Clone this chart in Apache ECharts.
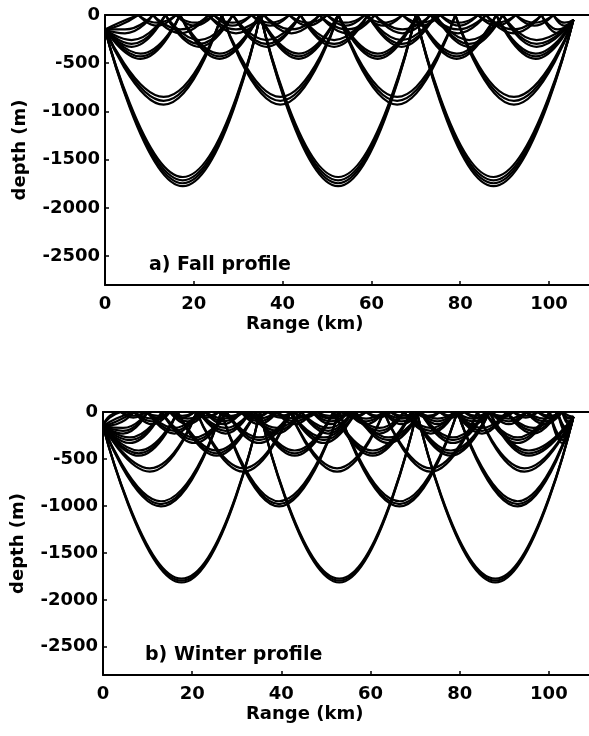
<!DOCTYPE html>
<html>
<head>
<meta charset="utf-8">
<script src="https://cdn.jsdelivr.net/npm/echarts@6/dist/echarts.min.js"></script>
<style>
  html, body { margin: 0; padding: 0; background: #fff; }
  #chart { width: 589px; height: 736px; }
</style>
</head>
<body>
<div id="chart"></div>
<script>
// axis ticks
const rangeTicks = [0, 20, 40, 60, 80, 100]
const depthTicks = [0, -500, -1000, -1500, -2000, -2500]

// source / receiver positions [range km, depth m]
const fallSource = [0, -150]
const fallReceiver = [105.5, -50]
const winterSource = [0, -150]
const winterReceiver = [105.5, -50]

// ray families:
// surface hits (km), lower turning ranges (km), turning depth of each ray (m)
const fallDeepTops = [35, 70]
const fallDeepBottoms = [17.5, 52.5, 87.5]
const fallDeepDepths = [-1680, -1715, -1745, -1775]

const fallMidTops = [26.3, 52.6, 78.9]
const fallMidBottoms = [13.2, 39.5, 65.8, 92.1]
const fallMidDepths = [-850, -890, -930]

const fall450Tops = [16.9, 34.7, 52.5, 70.3, 88.1]
const fall450Bottoms = [8, 25.8, 43.6, 61.4, 79.2, 97]
const fall450Depths = [-400, -430, -455]

const fall300Tops = [13.6, 28.8, 44, 59.2, 74.4, 89.6]
const fall300Bottoms = [6, 21.2, 36.4, 51.6, 66.8, 82, 97.2]
const fall300Depths = [-260, -300, -330]

const fall180Tops = [10.8, 23.3, 35.8, 48.3, 60.8, 73.3, 85.8, 98.3]
const fall180Bottoms = [4.5, 17, 29.5, 42, 54.5, 67, 79.5, 92, 102]
const fall180Depths = [-150, -190]

const fall90Tops = [7.5, 16, 24.5, 33, 41.5, 50, 58.5, 67, 75.5, 84, 92.5, 101]
const fall90Bottoms = [3.2, 11.7, 20.2, 28.7, 37.2, 45.7, 54.2, 62.7, 71.2, 79.7, 88.2, 96.7, 103.5]
const fall90Depths = [-80, -110]

const winterDeepTops = [35.2, 70.4]
const winterDeepBottoms = [17.6, 53, 88]
const winterDeepDepths = [-1775, -1795, -1815]

const winter1000Tops = [26.5, 53, 79.5]
const winter1000Bottoms = [13, 39.5, 66.5, 93]
const winter1000Depths = [-950, -980, -1005]

const winter650Tops = [21, 42, 63, 84]
const winter650Bottoms = [10.5, 31.5, 52.5, 73.5, 94.5]
const winter650Depths = [-600, -635]

const winter450Tops = [16.7, 34.2, 51.7, 69.2, 86.7]
const winter450Bottoms = [8, 25.5, 43, 60.5, 78, 95.5]
const winter450Depths = [-410, -440, -465]

const winter300Tops = [13.2, 27.7, 42.2, 56.7, 71.2, 85.7, 100.2]
const winter300Bottoms = [6, 20.5, 35, 49.5, 64, 78.5, 93, 103]
const winter300Depths = [-270, -300, -330]

const winter200Tops = [10, 21.5, 33, 44.5, 56, 67.5, 79, 90.5, 102]
const winter200Bottoms = [4.5, 16, 27.5, 39, 50.5, 62, 73.5, 85, 96.5, 104]
const winter200Depths = [-170, -200, -230]

const winter100Tops = [7, 15, 23, 31, 39, 47, 55, 63, 71, 79, 87, 95, 103]
const winter100Bottoms = [3, 11, 19, 27, 35, 43, 51, 59, 67, 75, 83, 91, 99, 104.5]
const winter100Depths = [-70, -100, -130]

const winter50Tops = [4, 9.5, 15, 20.5, 26, 31.5, 37, 42.5, 48, 53.5, 59, 64.5, 70, 75.5, 81, 86.5, 92, 97.5, 103]
const winter50Bottoms = [1.5, 6.8, 12.3, 17.8, 23.3, 28.8, 34.3, 39.8, 45.3, 50.8, 56.3, 61.8, 67.3, 72.8, 78.3, 83.8, 89.3, 94.8, 100.3, 104.5]
const winter50Depths = [-40, -60]

const fallFamilies = [
  [fallDeepTops, fallDeepBottoms, fallDeepDepths],
  [fallMidTops, fallMidBottoms, fallMidDepths],
  [fall450Tops, fall450Bottoms, fall450Depths],
  [fall300Tops, fall300Bottoms, fall300Depths],
  [fall180Tops, fall180Bottoms, fall180Depths],
  [fall90Tops, fall90Bottoms, fall90Depths]
]
const winterFamilies = [
  [winterDeepTops, winterDeepBottoms, winterDeepDepths],
  [winter1000Tops, winter1000Bottoms, winter1000Depths],
  [winter650Tops, winter650Bottoms, winter650Depths],
  [winter450Tops, winter450Bottoms, winter450Depths],
  [winter300Tops, winter300Bottoms, winter300Depths],
  [winter200Tops, winter200Bottoms, winter200Depths],
  [winter100Tops, winter100Bottoms, winter100Depths],
  [winter50Tops, winter50Bottoms, winter50Depths]
]

// split one ray into arcs from surface (or source) to surface (or receiver)
function rayArcs(src, rcv, tops, bottoms, depth) {
  const pts = [[src[0], src[1], 't']]
  tops.forEach(x => pts.push([x, 0, 't']))
  bottoms.forEach(x => pts.push([x, depth, 'b']))
  pts.push([rcv[0], rcv[1], 't'])
  pts.sort((a, b) => a[0] - b[0])
  const arcs = []
  let cur = [pts[0]]
  for (let i = 1; i < pts.length; i++) {
    cur.push(pts[i])
    if (pts[i][2] === 't') {
      arcs.push(cur.map(p => [p[0], p[1]]))
      cur = [pts[i]]
    }
  }
  return arcs
}

function panelSeries(families, src, rcv, idx) {
  const out = []
  families.forEach(f => {
    f[2].forEach(depth => {
      rayArcs(src, rcv, f[0], f[1], depth).forEach(arc => {
        out.push({
          type: 'line',
          xAxisIndex: idx,
          yAxisIndex: idx,
          data: arc,
          smooth: 0.5,
          symbol: 'none',
          silent: true,
          clip: true,
          lineStyle: { color: '#000', width: 2.2 }
        })
      })
    })
  })
  return out
}

const tickFont = {
  color: '#000',
  fontFamily: 'DejaVu Sans',
  fontWeight: 'bold',
  fontSize: 18
}
const axisBlack = { color: '#000', width: 2 }

function xAxisFor(idx) {
  return {
    type: 'value',
    gridIndex: idx,
    min: 0,
    max: 109,
    axisLine: { show: true, onZero: false, lineStyle: axisBlack },
    axisTick: { show: true, inside: true, length: 4, customValues: rangeTicks, lineStyle: { color: '#000', width: 1.5 } },
    axisLabel: Object.assign({ margin: 10, customValues: rangeTicks, formatter: v => String(v) }, tickFont),
    splitLine: { show: false }
  }
}

// top frame line
function topAxisFor(idx) {
  return {
    type: 'value',
    gridIndex: idx,
    position: 'top',
    min: 0,
    max: 109,
    axisLine: { show: true, onZero: false, lineStyle: axisBlack },
    axisTick: { show: false },
    axisLabel: { show: false },
    splitLine: { show: false }
  }
}

function yAxisFor(idx) {
  return {
    type: 'value',
    gridIndex: idx,
    min: -2800,
    max: 0,
    axisLine: { show: true, onZero: false, lineStyle: axisBlack },
    axisTick: { show: true, inside: true, length: 4, customValues: depthTicks, lineStyle: { color: '#000', width: 1.5 } },
    axisLabel: Object.assign({ margin: 5, customValues: depthTicks, formatter: v => String(v) }, tickFont),
    splitLine: { show: false },
    name: 'depth (m)',
    nameLocation: 'middle',
    nameGap: 76,
    nameRotate: 90,
    nameTextStyle: tickFont
  }
}

const chart = echarts.init(document.getElementById('chart'))
chart.setOption({
  animation: false,
  backgroundColor: '#fff',
  grid: [
    { left: 105, top: 15, width: 484, height: 270 },
    { left: 103, top: 412, width: 486, height: 263 }
  ],
  xAxis: [xAxisFor(0), xAxisFor(1), topAxisFor(0), topAxisFor(1)],
  yAxis: [yAxisFor(0), yAxisFor(1)],
  series: panelSeries(fallFamilies, fallSource, fallReceiver, 0)
    .concat(panelSeries(winterFamilies, winterSource, winterReceiver, 1)),
  graphic: [
    { type: 'text', left: 149, top: 256, style: { text: 'a) Fall profile', font: 'bold 19px "DejaVu Sans"', fill: '#000' } },
    { type: 'text', left: 246, top: 315, style: { text: 'Range (km)', font: 'bold 18px "DejaVu Sans"', fill: '#000' } },
    { type: 'text', left: 145, top: 646, style: { text: 'b) Winter profile', font: 'bold 19px "DejaVu Sans"', fill: '#000' } },
    { type: 'text', left: 246, top: 705, style: { text: 'Range (km)', font: 'bold 18px "DejaVu Sans"', fill: '#000' } }
  ]
})
</script>
</body>
</html>
